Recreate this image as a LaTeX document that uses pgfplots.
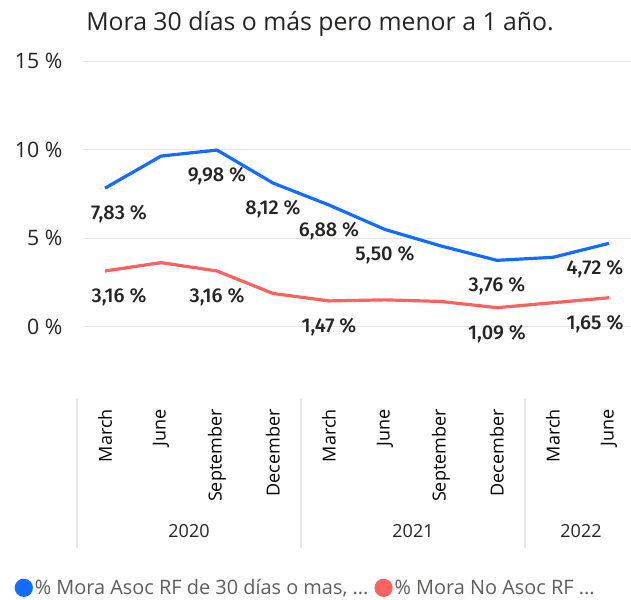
\documentclass[border=0pt]{standalone}
\usepackage{pgfplots}
\pgfplotsset{compat=1.18}
\usepackage{fontspec}
\setmainfont{Open Sans}
\IfFontExistsTF{Fira Sans Medium}{\newfontfamily\lblfont{Fira Sans Medium}}{\newfontfamily\lblfont[FakeBold=0.8]{Fira Sans}}
\definecolor{lineblue}{RGB}{18,108,255}
\definecolor{linered}{RGB}{253,98,96}
\definecolor{gridgray}{RGB}{229,229,229}
\definecolor{txtdark}{RGB}{37,36,35}
\definecolor{leggray}{RGB}{96,94,92}
\begin{document}
\begin{tikzpicture}
\path[use as bounding box] (0,0) rectangle (631bp,600bp);
\begin{axis}[
  at={(82.6bp,228.7bp)}, anchor=south west,
  scale only axis, width=548.8bp, height=319.1bp,
  xmin=-0.4, xmax=9.4, ymin=-2.5, ymax=15.5,
  clip=false,
  axis line style={draw=none}, major tick length=0pt, tick style={draw=none},
  ytick={0,5,10,15}, ymajorgrids, grid style={gridgray, line width=1bp},
  /pgf/number format/assume math mode=true,
  yticklabel={\pgfmathprintnumber{\tick}~\%},
  yticklabel style={anchor=east, inner sep=0pt, xshift=-20bp, text=txtdark,
    font=\fontsize{21.3bp}{24bp}\selectfont},
  xtick={0,...,9},
  xticklabels={March,June,September,December,March,June,September,December,March,June},
  xticklabel shift=37.7bp,
  xticklabel style={rotate=90, anchor=east, inner sep=0pt, text=black,
    font=\fontsize{18bp}{21bp}\selectfont},
  legend columns=2,
  legend style={at={(-0.1241,-0.6785)}, anchor=west, draw=none, fill=none, inner sep=0pt,
    nodes={inner ysep=0pt},
    font=\fontsize{19.9bp}{23bp}\selectfont, text=leggray,
    /tikz/every even column/.append style={column sep=4bp}},
  legend image code/.code={\fill[#1] (7.5bp,0bp) circle (7.5bp);},
  legend cell align=left,
]
\addplot[color=lineblue, line width=3.2bp, line join=round, mark=none] table[x=x,y=y] {
x y
0 7.83
1 9.64
2 9.98
3 8.12
4 6.88
5 5.50
6 4.57
7 3.76
8 3.93
9 4.72
};
\addlegendentry{\% Mora Asoc RF de 30 días o mas, ...}
\addplot[color=linered, line width=3.2bp, line join=round, mark=none] table[x=x,y=y] {
x y
0 3.16
1 3.63
2 3.16
3 1.89
4 1.47
5 1.53
6 1.44
7 1.09
8 1.37
9 1.65
};
\addlegendentry{\% Mora No Asoc RF ...}
\addplot[draw=none, mark=none, forget plot, point meta=y,
  visualization depends on={value \thisrow{dx} \as \dx},
  nodes near coords={\lblfont\pgfmathprintnumber[fixed,fixed zerofill,precision=2,use comma,assume math mode=true]{\pgfplotspointmeta}~\%},
  nodes near coords align={below},
  every node near coord/.append style={anchor=north, inner sep=0pt, yshift=-17bp, xshift=\dx bp,
    text=txtdark, font=\fontsize{20bp}{24bp}\selectfont}]
  table[x=x,y=y] {
x y dx
0 7.83 14
2 9.98 0
3 8.12 0
4 6.88 0
5 5.50 0
7 3.76 0
9 4.72 -14
};
\addplot[draw=none, mark=none, forget plot, point meta=y,
  visualization depends on={value \thisrow{dx} \as \dx},
  nodes near coords={\lblfont\pgfmathprintnumber[fixed,fixed zerofill,precision=2,use comma,assume math mode=true]{\pgfplotspointmeta}~\%},
  nodes near coords align={below},
  every node near coord/.append style={anchor=north, inner sep=0pt, yshift=-17bp, xshift=\dx bp,
    text=txtdark, font=\fontsize{20bp}{24bp}\selectfont}]
  table[x=x,y=y] {
x y dx
0 3.16 14
2 3.16 0
4 1.47 0
7 1.09 0
9 1.65 -14
};
\end{axis}
\node[anchor=base, text=txtdark, font=\fontsize{24.8bp}{28bp}\selectfont] at (320bp,569bp) {Mora 30 días o más pero menor a 1 año.};
\foreach \xx in {77,301,525} {
  \draw[gridgray, line width=1.3bp] (\xx bp,201bp) -- (\xx bp,52bp);
}
\node[text=txtdark, font=\fontsize{18bp}{21bp}\selectfont] at (189bp,69.3bp) {2020};
\node[text=txtdark, font=\fontsize{18bp}{21bp}\selectfont] at (413bp,69.3bp) {2021};
\node[text=txtdark, font=\fontsize{18bp}{21bp}\selectfont] at (581bp,69.3bp) {2022};
\end{tikzpicture}
\end{document}
